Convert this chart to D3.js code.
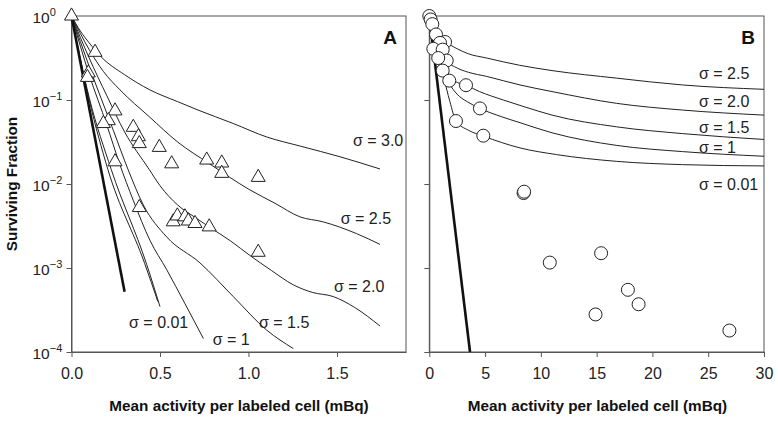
<!DOCTYPE html>
<html>
<head>
<meta charset="utf-8">
<script src="https://cdn.jsdelivr.net/npm/d3@7"></script>
<style>
  body { margin: 0; background: #fff; }
  svg { display: block; font-family: "Liberation Sans", Arial, sans-serif; }
</style>
</head>
<body>
<svg id="chart" width="778" height="422"></svg>
<script>
// ---------------- DATA ----------------
const yTickValues = [1, 0.1, 0.01, 0.001, 0.0001];
const yTickExponents = ["0", "\u22121", "\u22122", "\u22123", "\u22124"];
const xTicksA = [0, 0.5, 1.0, 1.5];
const xTicksB = [0, 5, 10, 15, 20, 25, 30];

const trianglesA = [
  [0, 1], [0.133, 0.37], [0.095, 0.21], [0.09, 0.186],
  [0.246, 0.0742], [0.208, 0.0568], [0.18, 0.0525],
  [0.349, 0.0473], [0.378, 0.0366], [0.383, 0.0303], [0.496, 0.0273],
  [0.566, 0.0174], [0.246, 0.0184], [0.764, 0.0193], [0.849, 0.0178],
  [0.849, 0.0134], [1.055, 0.012], [0.383, 0.00525],
  [0.575, 0.00355], [0.598, 0.00417], [0.641, 0.00407], [0.66, 0.00363],
  [0.698, 0.00339], [0.778, 0.00309], [1.055, 0.00154]
];

const thickA = [[0, 1], [0.3, 0.00052]];
const sig001aA = [[0, 1], [0.1, 0.1], [0.206, 0.0148], [0.413, 0.00114], [0.488, 0.000398]];
const sig001bA = [[0, 1], [0.1, 0.107], [0.225, 0.0148], [0.425, 0.0011], [0.5, 0.000347]];
const sig1A = [[0, 1], [0.1, 0.2], [0.2, 0.0501], [0.27, 0.0178], [0.35, 0.00631], [0.443, 0.00214],
  [0.538, 0.000955], [0.64, 0.00038], [0.745, 0.000145]];
const sig15A = [[0, 1], [0.1, 0.251], [0.236, 0.0437], [0.32, 0.0148], [0.406, 0.00562], [0.538, 0.00234],
  [0.726, 0.00115], [0.914, 0.000457], [1.103, 0.000182], [1.253, 0.00011]];
const sig2A = [[0, 1], [0.1, 0.316], [0.2, 0.112], [0.3, 0.0417], [0.44, 0.0148], [0.5, 0.00955],
  [0.6, 0.00562], [0.7, 0.00398], [0.777, 0.00309], [0.9, 0.00209], [1.008, 0.00141], [1.13, 0.000933],
  [1.253, 0.000631], [1.36, 0.000513], [1.479, 0.000457], [1.6, 0.000339], [1.743, 0.000204]];
const sig25A = [[0, 1], [0.1, 0.398], [0.18, 0.219], [0.274, 0.132], [0.44, 0.0631], [0.6, 0.0316],
  [0.78, 0.0174], [1.008, 0.00851], [1.15, 0.00589], [1.29, 0.00407], [1.42, 0.00355], [1.61, 0.00257],
  [1.743, 0.00191]];
const sig3A = [[0, 1], [0.05, 0.661], [0.1, 0.479], [0.167, 0.327], [0.3, 0.2], [0.443, 0.132],
  [0.6, 0.0955], [0.715, 0.0759], [0.914, 0.0525], [1.103, 0.0363], [1.294, 0.0282], [1.517, 0.0211],
  [1.743, 0.0151]];

const labelsA = ["\u03c3 = 3.0", "\u03c3 = 2.5", "\u03c3 = 2.0", "\u03c3 = 1.5", "\u03c3 = 1", "\u03c3 = 0.01"];
// left end / baseline of each label, in data units
const labelAnchorsA = [[1.59, 0.0283], [1.521, 0.00334], [1.483, 0.000511], [1.059, 0.000193], [0.798, 0.000121], [0.325, 0.000193]];

const circlesB = [
  [0, 1], [0.12, 0.91], [0.27, 0.8], [0.6, 0.603], [1.41, 0.49], [0.96, 0.479],
  [0.36, 0.407], [1.2, 0.398], [1.56, 0.295], [0.8, 0.316], [1.2, 0.224], [1.79, 0.17],
  [3.29, 0.15], [4.54, 0.0794], [2.39, 0.0562], [4.84, 0.0376],
  [8.45, 0.0078], [8.5, 0.0081], [10.8, 0.00116], [15.4, 0.0015], [17.8, 0.00055],
  [18.76, 0.00037], [14.9, 0.00028], [26.9, 0.00018]
];

const thickB = [[0, 1], [3.65, 0.0001]];
const sig001B = [[0, 1], [0.6, 0.562], [1.25, 0.2], [1.85, 0.0955], [2.39, 0.0562], [3.5, 0.0437],
  [4.84, 0.0372], [8.13, 0.0269], [11.4, 0.0224], [16.8, 0.0186], [22.7, 0.017], [30, 0.0164]];
const sig1B = [[0, 1], [0.6, 0.562], [1.2, 0.251], [1.8, 0.158], [2.5, 0.117], [3.4, 0.0955],
  [4.54, 0.0794], [6.5, 0.0631], [8.13, 0.0537], [11, 0.0407], [16.8, 0.0288], [22.7, 0.0243], [30, 0.0214]];
const sig15B = [[0, 1], [0.6, 0.603], [1.2, 0.316], [1.79, 0.191], [2.5, 0.162], [3.26, 0.15],
  [4.5, 0.126], [6.63, 0.1], [8.5, 0.0832], [11, 0.0661], [16.8, 0.0479], [22.7, 0.0398], [30, 0.0339]];
const sig2B = [[0, 1], [0.6, 0.631], [1.2, 0.38], [1.56, 0.295], [2.5, 0.24], [3.5, 0.214],
  [5.14, 0.191], [8.13, 0.151], [11, 0.126], [16.8, 0.0912], [22.7, 0.0759], [30, 0.0661]];
const sig25B = [[0, 1], [0.5, 0.759], [1.0, 0.562], [1.41, 0.501], [2.5, 0.407], [3.5, 0.355],
  [5.14, 0.316], [8.1, 0.259], [11, 0.224], [16.8, 0.182], [22.7, 0.151], [30, 0.134]];

const labelsB = ["\u03c3 = 2.5", "\u03c3 = 2.0", "\u03c3 = 1.5", "\u03c3 = 1", "\u03c3 = 0.01"];
const labelAnchorsB = [[24.17, 0.178], [24.17, 0.0826], [24.17, 0.0405], [24.17, 0.0236], [24.17, 0.00849]];

const xTitle = "Mean activity per labeled cell (mBq)";
const yTitle = "Surviving Fraction";
const panelLetters = ["A", "B"];

// ---------------- LAYOUT ----------------
const svg = d3.select("#chart");
const plotTop = 16, plotBottom = 352;
const y = d3.scaleLog().domain([1e-4, 1]).range([plotBottom, plotTop]);
const xA = d3.scaleLinear().domain([0, 1.89]).range([71.5, 406]);
const xB = d3.scaleLinear().domain([0, 30]).range([429.3, 764]);

const frameColor = "#555";

function drawPanel(x, ticks, fmt, showYLabels) {
  const g = svg.append("g");
  g.append("rect")
    .attr("x", x.range()[0]).attr("y", plotTop)
    .attr("width", x.range()[1] - x.range()[0]).attr("height", plotBottom - plotTop)
    .attr("fill", "none").attr("stroke", frameColor).attr("stroke-width", 1);
  const ax = g.append("g").attr("transform", `translate(0,${plotBottom})`)
    .call(d3.axisBottom(x).tickValues(ticks).tickFormat(fmt).tickSize(5).tickSizeOuter(0));
  ax.select(".domain").attr("stroke", frameColor);
  ax.selectAll(".tick line").attr("stroke", frameColor);
  ax.selectAll(".tick text").attr("font-size", 16).attr("fill", "#222").attr("dy", "0").attr("y", 26.5)
    .attr("font-family", "Liberation Sans, Arial, sans-serif");
  const ay = g.append("g").attr("transform", `translate(${x.range()[0]},0)`)
    .call(d3.axisLeft(y).tickValues(yTickValues).tickFormat(() => "").tickSize(5).tickSizeOuter(0));
  ay.select(".domain").attr("stroke", frameColor);
  ay.selectAll(".tick line").attr("stroke", frameColor);
  ay.selectAll(".tick text").remove();
  if (showYLabels) {
    yTickValues.forEach((v, i) => {
      const t = g.append("text")
        .attr("x", 32.5).attr("y", y(v) + 6.5)
        .attr("font-size", 15.5).attr("fill", "#222");
      t.append("tspan").text("10");
      t.append("tspan").attr("dy", -7).attr("font-size", 11).text(yTickExponents[i]);
    });
  }
  return g;
}

function drawCurves(g, x, curves, thick) {
  const line = d3.line().x(d => x(d[0])).y(d => y(d[1])).curve(d3.curveMonotoneX);
  curves.forEach(c => {
    g.append("path").attr("d", line(c)).attr("fill", "none")
      .attr("stroke", "#222").attr("stroke-width", 1);
  });
  g.append("path").attr("d", d3.line().x(d => x(d[0])).y(d => y(d[1]))(thick))
    .attr("fill", "none").attr("stroke", "#111").attr("stroke-width", 2.6);
}

function drawLabels(g, x, labels, anchors) {
  labels.forEach((l, i) => {
    g.append("text").attr("x", x(anchors[i][0])).attr("y", y(anchors[i][1]))
      .attr("text-anchor", "start").attr("font-size", 16).attr("fill", "#222").text(l);
  });
}

const gA = drawPanel(xA, xTicksA, d3.format(".1f"), true);
drawCurves(gA, xA, [sig001aA, sig001bA, sig1A, sig15A, sig2A, sig25A, sig3A], thickA);
drawLabels(gA, xA, labelsA, labelAnchorsA);
gA.selectAll("path.tri").data(trianglesA).join("path").attr("class", "tri")
  .attr("transform", d => `translate(${xA(d[0])},${y(d[1])})`)
  .attr("d", d3.symbol(d3.symbolTriangle).size(85)())
  .attr("fill", "#fff").attr("stroke", "#222").attr("stroke-width", 1);

const gB = drawPanel(xB, xTicksB, d3.format("d"), false);
drawCurves(gB, xB, [sig001B, sig1B, sig15B, sig2B, sig25B], thickB);
drawLabels(gB, xB, labelsB, labelAnchorsB);
gB.selectAll("circle.pt").data(circlesB).join("circle").attr("class", "pt")
  .attr("cx", d => xB(d[0])).attr("cy", d => y(d[1])).attr("r", 6.5)
  .attr("fill", "#fff").attr("stroke", "#222").attr("stroke-width", 1);

svg.append("text").attr("x", 397).attr("y", 43.5).attr("text-anchor", "end")
  .attr("font-size", 19).attr("font-weight", "bold").attr("fill", "#111").text(panelLetters[0]);
svg.append("text").attr("x", 755).attr("y", 43.5).attr("text-anchor", "end")
  .attr("font-size", 19).attr("font-weight", "bold").attr("fill", "#111").text(panelLetters[1]);

svg.append("text").attr("x", 239).attr("y", 411).attr("text-anchor", "middle")
  .attr("font-size", 15.3).attr("font-weight", "bold").attr("fill", "#111").text(xTitle);
svg.append("text").attr("x", 597.5).attr("y", 411).attr("text-anchor", "middle")
  .attr("font-size", 15.3).attr("font-weight", "bold").attr("fill", "#111").text(xTitle);
svg.append("text").attr("transform", "translate(17,184) rotate(-90)").attr("text-anchor", "middle")
  .attr("font-size", 15.3).attr("font-weight", "bold").attr("fill", "#111").text(yTitle);
</script>
</body>
</html>
